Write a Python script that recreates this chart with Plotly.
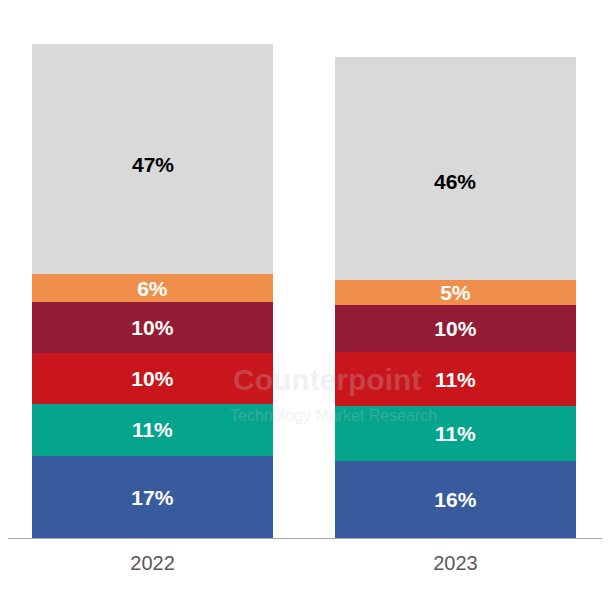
import plotly.graph_objects as go

years = ['2022', '2023']

# segment heights (2022 total = 100)
blue = [16.55, 15.54]
teal = [10.67, 11.20]
red = [10.33, 10.82]
dark_red = [10.13, 9.58]
orange = [5.67, 5.06]
grey = [46.65, 45.23]

# printed labels
blue_lbl = ['17%', '16%']
teal_lbl = ['11%', '11%']
red_lbl = ['10%', '11%']
dark_red_lbl = ['10%', '10%']
orange_lbl = ['6%', '5%']
grey_lbl = ['47%', '46%']

series = [
    (blue, blue_lbl, '#385B9D', 'white'),
    (teal, teal_lbl, '#05A48C', 'white'),
    (red, red_lbl, '#C9161C', 'white'),
    (dark_red, dark_red_lbl, '#941C34', 'white'),
    (orange, orange_lbl, '#EF8F4B', 'white'),
]

fig = go.Figure()
for vals, lbls, col, txtcol in series:
    fig.add_trace(go.Bar(
        x=years,
        y=vals,
        text=['<b>' + t + '</b>' for t in lbls],
        textposition='inside',
        insidetextanchor='middle',
        textangle=0,
        textfont=dict(family='Liberation Sans, Arial', size=21, color=txtcol),
        marker=dict(color=col, line=dict(width=0)),
        hoverinfo='skip',
    ))

fig.add_trace(go.Bar(
    x=years, y=grey,
    marker=dict(color='#D9D9D9', line=dict(width=0)),
    hoverinfo='skip',
))

# grey labels sit a little below the middle of the segment
grey_lbl_pos = [0.475, 0.44]
for i in range(len(years)):
    base = blue[i] + teal[i] + red[i] + dark_red[i] + orange[i]
    fig.add_annotation(
        x=i, y=base + grey[i] * grey_lbl_pos[i], xref='x', yref='y',
        text='<b>' + grey_lbl[i] + '</b>', showarrow=False,
        font=dict(family='Liberation Sans, Arial', size=21, color='black'),
    )

# faint watermark
fig.add_annotation(
    x=0.53, y=0.275, xref='paper', yref='paper',
    text='<b>Counterpoint</b>', showarrow=False,
    font=dict(family='Liberation Sans, Arial', size=30, color='rgba(200,200,200,0.25)'),
)
fig.add_annotation(
    x=0.54, y=0.22, xref='paper', yref='paper',
    text='Technology Market Research', showarrow=False,
    font=dict(family='Liberation Sans, Arial', size=16, color='rgba(200,200,200,0.25)'),
)

fig.update_layout(
    barmode='stack',
    bargap=0.205,
    width=602,
    height=602,
    margin=dict(l=0, r=0, t=20, b=72),
    plot_bgcolor='white',
    paper_bgcolor='white',
    showlegend=False,
    uniformtext=dict(minsize=21, mode='show'),
)
fig.update_xaxes(
    type='category',
    range=[-0.477, 1.51],
    showline=True, linecolor='#A6A6A6', linewidth=1,
    ticks='', showgrid=False, ticklabelstandoff=7,
    tickfont=dict(family='Liberation Sans, Arial', size=20, color='#595959'),
)
fig.update_yaxes(
    range=[0, 103.24], visible=False, showgrid=False,
)

fig.write_html("out.html")
